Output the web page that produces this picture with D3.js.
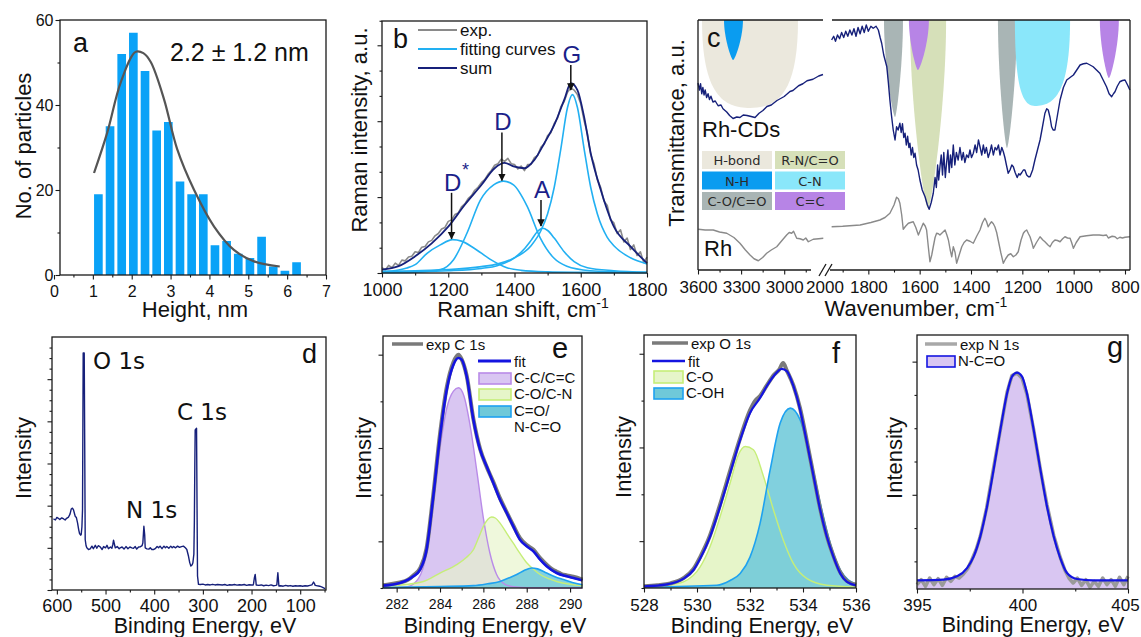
<!DOCTYPE html>
<html>
<head>
<meta charset="utf-8">
<script src="https://cdn.jsdelivr.net/npm/d3@7"></script>
<style>
  body { margin: 0; background: #fff; }
  svg { display: block; }
  text { font-family: "Liberation Sans", Arial, sans-serif; fill: #111; }
  .dv { font-family: "DejaVu Sans", sans-serif; }
</style>
</head>
<body>
<svg id="fig" width="1141" height="637"></svg>
<script>
// ---- a: particle height histogram ----
const heightBinStart = [1.0, 1.3, 1.6, 1.9, 2.2, 2.5, 2.8, 3.1, 3.4, 3.7, 4.0, 4.3, 4.6, 4.9, 5.2, 5.5, 5.8, 6.1];
const heightBinWidth = 0.3;
const heightCounts = [19, 35, 52, 57, 48, 34, 36, 22, 19, 19, 7, 8, 5, 4, 9, 2, 1, 3];
const heightFit = [[1.03, 24.0], [1.37, 33.5], [1.72, 45.4], [2.1, 52.5], [2.3, 52.2], [2.49, 50.1], [2.83, 41.4],
  [3.17, 29.6], [3.6, 20.1], [4.12, 11.4], [4.63, 5.9], [5.15, 3.2], [5.81, 2.0]];

// ---- b: Raman ----
const ramanDstar = [[1000, 0.02], [1050, 0.04], [1075, 0.066], [1100, 0.11], [1136, 0.26], [1176, 0.37], [1213, 0.44],
  [1240, 0.42], [1277, 0.33], [1327, 0.18], [1377, 0.07], [1420, 0.035], [1500, 0.015], [1600, 0.008], [1800, 0.003]];
const ramanD = [[1000, 0.005], [1100, 0.012], [1176, 0.044], [1216, 0.175], [1257, 0.53], [1297, 0.96], [1337, 1.16],
  [1367, 1.21], [1397, 1.16], [1438, 0.88], [1478, 0.46], [1518, 0.2], [1558, 0.09], [1629, 0.03], [1700, 0.015], [1800, 0.008]];
const ramanA = [[1000, 0.01], [1200, 0.03], [1300, 0.06], [1350, 0.1], [1400, 0.2], [1430, 0.32], [1450, 0.43], [1470, 0.55],
  [1485, 0.59], [1500, 0.56], [1520, 0.46], [1550, 0.28], [1580, 0.15], [1620, 0.07], [1700, 0.03], [1800, 0.01]];
const ramanG = [[1000, 0.02], [1100, 0.03], [1200, 0.046], [1300, 0.084], [1350, 0.12], [1400, 0.2], [1450, 0.36], [1480, 0.56],
  [1500, 0.78], [1520, 1.13], [1540, 1.64], [1560, 2.18], [1575, 2.35], [1590, 2.18], [1610, 1.64], [1630, 1.13], [1650, 0.78],
  [1680, 0.47], [1700, 0.36], [1750, 0.2], [1800, 0.12]];
const ramanSum = [[1000, 0.044], [1050, 0.09], [1100, 0.22], [1150, 0.39], [1200, 0.61], [1250, 0.9], [1300, 1.16], [1340, 1.38],
  [1370, 1.45], [1400, 1.4], [1430, 1.38], [1460, 1.49], [1490, 1.71], [1520, 1.95], [1550, 2.28], [1570, 2.5], [1590, 2.41],
  [1610, 2.06], [1630, 1.58], [1660, 1.1], [1700, 0.61], [1750, 0.35], [1800, 0.13]];
const ramanExpStart = 1000, ramanExpStep = 10;
const ramanExp = [.07, .04, .10, .07, .13, .10, .17, .16, .21, .22, .28, .27, .34, .35, .41, .43, .49, .52, .58, .60, .68, .70,
  .77, .79, .87, .91, .98, 1.02, 1.09, 1.13, 1.19, 1.23, 1.30, 1.35, 1.42, 1.44, 1.50, 1.47, 1.51, 1.44, 1.43, 1.37, 1.41, 1.35,
  1.43, 1.43, 1.52, 1.55, 1.66, 1.70, 1.81, 1.85, 1.97, 2.04, 2.19, 2.26, 2.38, 2.44, 2.41, 2.35, 2.23, 2.01, 1.84, 1.56, 1.44,
  1.23, 1.13, .95, .89, .70, .66, .52, .57, .41, .46, .31, .37, .23, .28, .14, .21];
const peakNames = ['D', 'D', 'A', 'G'];
const peakShift = [1213, 1365, 1483, 1573];
const peakTop = [0.45, 1.22, 0.62, 2.41];

// ---- c: FTIR ----
const rhcdLeft = [[3600, 0.748], [3590, 0.72], [3582, 0.745], [3574, 0.705], [3566, 0.73], [3558, 0.7], [3550, 0.72], [3540, 0.69],
  [3530, 0.705], [3520, 0.682], [3510, 0.695], [3496, 0.672], [3480, 0.676], [3460, 0.657], [3440, 0.66], [3426, 0.645],
  [3400, 0.632], [3380, 0.618], [3356, 0.606], [3330, 0.612], [3308, 0.61], [3285, 0.62], [3259, 0.618], [3230, 0.614],
  [3203, 0.61], [3175, 0.627], [3148, 0.638], [3120, 0.654], [3090, 0.66], [3050, 0.678], [3000, 0.694], [2960, 0.714],
  [2939, 0.718], [2900, 0.737], [2870, 0.745], [2841, 0.757], [2800, 0.763], [2760, 0.776], [2730, 0.782]];
const rhcdRight = [[1943, 0.92], [1935, 0.935], [1928, 0.915], [1920, 0.94], [1912, 0.925], [1904, 0.95], [1896, 0.93], [1888, 0.955],
  [1880, 0.935], [1872, 0.96], [1864, 0.94], [1856, 0.965], [1848, 0.935], [1840, 0.97], [1832, 0.945], [1824, 0.975], [1816, 0.95],
  [1808, 0.98], [1800, 0.955], [1790, 0.975], [1781, 0.967], [1770, 0.975], [1761, 0.96], [1754, 0.93], [1748, 0.907], [1740, 0.86],
  [1728, 0.813], [1722, 0.75], [1716, 0.68], [1710, 0.62], [1703, 0.56], [1696, 0.52], [1690, 0.573], [1684, 0.56], [1677, 0.587],
  [1672, 0.55], [1667, 0.585], [1662, 0.53], [1657, 0.547], [1652, 0.5], [1647, 0.535], [1642, 0.49], [1638, 0.507], [1633, 0.46],
  [1628, 0.49], [1623, 0.45], [1618, 0.467], [1612, 0.42], [1606, 0.4], [1599, 0.36], [1590, 0.32], [1579, 0.293], [1570, 0.26],
  [1563, 0.243], [1555, 0.27], [1547, 0.307], [1540, 0.37], [1535, 0.33], [1530, 0.42], [1526, 0.36], [1521, 0.413], [1516, 0.46],
  [1511, 0.38], [1506, 0.47], [1500, 0.37], [1495, 0.43], [1490, 0.48], [1485, 0.39], [1480, 0.46], [1475, 0.41], [1469, 0.5],
  [1463, 0.42], [1457, 0.47], [1450, 0.44], [1443, 0.49], [1436, 0.44], [1430, 0.47], [1424, 0.43], [1417, 0.46], [1410, 0.45],
  [1404, 0.48], [1398, 0.45], [1391, 0.467], [1384, 0.5], [1378, 0.47], [1371, 0.52], [1365, 0.493], [1358, 0.46], [1352, 0.5],
  [1346, 0.467], [1340, 0.49], [1333, 0.45], [1326, 0.473], [1320, 0.5], [1313, 0.46], [1306, 0.49], [1300, 0.48], [1293, 0.5],
  [1287, 0.46], [1280, 0.49], [1274, 0.473], [1268, 0.45], [1262, 0.42], [1255, 0.387], [1248, 0.4], [1241, 0.42], [1235, 0.413],
  [1228, 0.39], [1220, 0.37], [1214, 0.385], [1209, 0.38], [1202, 0.39], [1196, 0.4], [1190, 0.4], [1183, 0.38], [1176, 0.373],
  [1170, 0.373], [1160, 0.4], [1151, 0.44], [1141, 0.48], [1131, 0.52], [1122, 0.57], [1112, 0.627], [1105, 0.645], [1099, 0.64],
  [1092, 0.61], [1086, 0.573], [1080, 0.56], [1073, 0.56], [1063, 0.62], [1053, 0.68], [1040, 0.73], [1027, 0.76], [1014, 0.77],
  [1001, 0.78], [988, 0.8], [975, 0.82], [962, 0.825], [949, 0.827], [936, 0.82], [924, 0.813], [911, 0.8], [898, 0.787],
  [885, 0.76], [872, 0.733], [862, 0.705], [852, 0.693], [845, 0.705], [839, 0.713], [830, 0.735], [820, 0.753], [810, 0.758],
  [800, 0.76], [790, 0.74], [781, 0.72]];
const rhLeft = [[3598, 0.163], [3550, 0.16], [3494, 0.16], [3450, 0.152], [3400, 0.147], [3350, 0.13], [3308, 0.107], [3270, 0.08],
  [3238, 0.06], [3210, 0.045], [3180, 0.037], [3150, 0.05], [3122, 0.067], [3090, 0.08], [3052, 0.093], [3020, 0.115], [2983, 0.14],
  [2965, 0.15], [2948, 0.147], [2935, 0.155], [2913, 0.127], [2890, 0.125], [2867, 0.12], [2850, 0.128], [2832, 0.113],
  [2815, 0.118], [2798, 0.123], [2760, 0.125], [2728, 0.127]];
const rhRight = [[1943, 0.173], [1900, 0.175], [1832, 0.18], [1790, 0.19], [1755, 0.2], [1735, 0.21], [1716, 0.227], [1700, 0.26],
  [1690, 0.291], [1683, 0.285], [1677, 0.267], [1670, 0.22], [1664, 0.163], [1655, 0.175], [1644, 0.187], [1635, 0.19],
  [1625, 0.193], [1615, 0.17], [1605, 0.14], [1595, 0.165], [1586, 0.187], [1578, 0.175], [1573, 0.16], [1566, 0.09],
  [1560, 0.033], [1553, 0.06], [1547, 0.093], [1540, 0.13], [1534, 0.147], [1527, 0.145], [1521, 0.14], [1511, 0.15],
  [1501, 0.16], [1494, 0.14], [1488, 0.12], [1481, 0.08], [1475, 0.053], [1469, 0.093], [1462, 0.07], [1456, 0.027],
  [1446, 0.06], [1436, 0.093], [1427, 0.11], [1417, 0.12], [1404, 0.115], [1391, 0.107], [1378, 0.135], [1365, 0.16],
  [1355, 0.19], [1346, 0.207], [1340, 0.195], [1333, 0.173], [1326, 0.185], [1320, 0.193], [1313, 0.185], [1307, 0.173],
  [1300, 0.15], [1294, 0.12], [1284, 0.07], [1274, 0.027], [1265, 0.045], [1255, 0.06], [1245, 0.065], [1235, 0.053],
  [1225, 0.06], [1216, 0.073], [1205, 0.12], [1196, 0.147], [1190, 0.155], [1183, 0.16], [1176, 0.145], [1170, 0.133],
  [1163, 0.11], [1157, 0.087], [1145, 0.11], [1131, 0.133], [1120, 0.12], [1112, 0.113], [1100, 0.1], [1092, 0.093],
  [1083, 0.11], [1073, 0.12], [1063, 0.118], [1053, 0.113], [1043, 0.125], [1034, 0.133], [1024, 0.128], [1014, 0.127],
  [1008, 0.11], [1001, 0.087], [990, 0.11], [975, 0.133], [950, 0.137], [924, 0.14], [900, 0.14], [885, 0.138], [872, 0.14],
  [865, 0.128], [859, 0.131], [850, 0.135], [839, 0.133], [830, 0.125], [820, 0.131], [810, 0.128], [800, 0.131], [781, 0.133]];
const bandNames = ['H-bond', 'N-H', 'C-O/C=O', 'R-N/C=O', 'C=C', 'C-O/C=O', 'C-N', 'C=C'];
const bandSide = ['L', 'L', 'R', 'R', 'R', 'R', 'R', 'R'];
const bandFrom = [3572, 3419, 1739, 1638, 1642, 1295, 1229, 898];
const bandTo = [2904, 3287, 1665, 1497, 1564, 1221, 1014, 824];
const bandTip = [3238, 3356, 1696, 1568, 1607, 1260, 1151, 863];
const bandDepth = [0.648, 0.84, 0.612, 0.248, 0.8, 0.488, 0.656, 0.768];
const groupNames = ['H-bond', 'R-N/C=O', 'N-H', 'C-N', 'C-O/C=O', 'C=C'];
const groupColors = ['#ebe8dd', '#d6e0b9', '#0a9cf0', '#8ae7fa', '#a9b5b5', '#b784e6'];

// ---- d: XPS survey ----
const surveyD = [[607, 1.685], [603, 1.66], [600, 1.72], [597, 1.70], [594, 1.67], [590, 1.71], [586, 1.685], [583, 1.66],
  [580, 1.70], [576, 1.73], [573, 1.80], [570.5, 1.92], [568, 1.94], [565.8, 1.90], [564, 1.82], [562.3, 1.75], [560, 1.72],
  [557.5, 1.59], [555, 1.42], [553.4, 1.34], [551, 1.30], [550, 1.315], [548.5, 1.5], [547.3, 1.905], [546.5, 4.0],
  [545.9, 5.62], [543.8, 5.62], [542.8, 3.5], [541.8, 1.197], [540, 1.05], [538.4, 1.0], [535, 0.96], [531.5, 0.976],
  [528, 1.04], [525, 0.98], [521, 1.06], [518, 0.99], [515, 1.05], [511, 1.024], [507, 0.96], [504, 1.03], [500, 1.0],
  [497, 1.06], [494, 0.98], [490, 1.02], [487, 0.99], [485, 1.08], [483.6, 1.18], [481, 1.05], [480, 1.0], [476, 1.03],
  [472, 0.98], [469.9, 1.0], [466, 1.02], [462, 0.97], [458, 1.03], [454, 0.98], [450, 1.02], [446, 1.0], [442.5, 0.99],
  [439, 1.03], [436, 0.97], [432, 1.02], [428.8, 1.024], [425, 1.05], [423.3, 1.118], [421.2, 1.512], [419.5, 1.3],
  [418.5, 1.0], [415, 0.976], [411, 0.97], [408, 1.0], [405, 0.96], [401.4, 0.96], [398, 0.98], [394, 1.03], [391, 1.0],
  [388, 1.04], [384, 0.98], [380, 1.04], [377, 1.0], [374, 1.03], [370, 0.99], [366, 1.04], [363, 1.0], [360, 1.03],
  [356, 1.0], [352, 1.04], [348, 1.01], [344, 1.03], [340, 1.04], [336, 1.0], [333, 0.96], [329.5, 0.8], [327, 0.65],
  [324.7, 0.567], [322, 0.6], [320.5, 0.646], [318.5, 0.85], [317.5, 1.6], [316.5, 3.0], [315.8, 3.795], [313, 3.835],
  [312, 2.0], [311, 0.331], [309, 0.134], [305, 0.13], [300, 0.14], [295, 0.12], [290, 0.13], [285, 0.12], [280, 0.135],
  [275, 0.12], [270, 0.13], [265, 0.125], [260, 0.12], [255, 0.13], [250, 0.11], [245, 0.125], [240, 0.12], [235, 0.13],
  [230, 0.115], [225, 0.125], [220, 0.12], [215, 0.13], [210, 0.11], [205, 0.125], [200, 0.12], [197, 0.115], [195.9, 0.15],
  [194, 0.3], [192.5, 0.37], [191, 0.2], [190.4, 0.12], [185, 0.11], [180, 0.12], [175, 0.1], [170, 0.115], [165, 0.105],
  [160, 0.12], [155, 0.1], [150, 0.11], [148, 0.12], [146.8, 0.3], [145.9, 0.41], [144.8, 0.25], [143.8, 0.094], [140, 0.1],
  [135, 0.09], [130, 0.11], [125, 0.095], [120, 0.105], [115, 0.09], [110, 0.1], [105, 0.095], [100, 0.1], [95, 0.09],
  [90, 0.1], [85, 0.095], [80, 0.11], [76, 0.12], [74, 0.16], [72.6, 0.189], [71, 0.16], [69.2, 0.11], [65, 0.1], [60, 0.09],
  [55, 0.07], [50, 0.04], [48.6, 0.031]];

// ---- e: C 1s ----
const c1sExp = [[281.38, 0.06], [281.7, 0.08], [282.15, 0.12], [282.5, 0.17], [282.77, 0.27], [283.08, 0.42], [283.38, 0.85],
  [283.69, 2.0], [284, 3.3], [284.31, 4.3], [284.62, 4.84], [284.85, 5.0], [285, 4.9], [285.23, 4.55], [285.54, 3.62],
  [285.85, 2.98], [286.15, 2.6], [286.46, 2.27], [286.77, 1.92], [287.08, 1.62], [287.38, 1.34], [287.69, 1.07], [288, 0.92],
  [288.31, 0.82], [288.62, 0.64], [288.92, 0.5], [289.15, 0.41], [289.38, 0.35], [289.6, 0.3], [289.85, 0.27], [290.15, 0.24],
  [290.57, 0.18]];
const c1sFit = [[281.38, 0.05], [282.15, 0.107], [282.77, 0.25], [283.08, 0.393], [283.38, 0.821], [283.69, 1.964], [284, 3.25],
  [284.31, 4.25], [284.62, 4.786], [284.85, 4.929], [285, 4.893], [285.23, 4.536], [285.54, 3.607], [285.85, 2.964],
  [286.15, 2.607], [286.46, 2.25], [286.77, 1.893], [287.08, 1.607], [287.38, 1.321], [287.69, 1.036], [288, 0.893],
  [288.31, 0.786], [288.62, 0.607], [288.92, 0.464], [289.38, 0.321], [289.85, 0.25], [290.15, 0.214], [290.57, 0.164]];
const c1sCC = [[281.38, 0.0], [282.5, 0.03], [283.0, 0.2], [283.38, 0.75], [283.69, 1.85], [284, 3.0], [284.31, 3.85],
  [284.62, 4.22], [284.85, 4.29], [285.1, 4.12], [285.4, 3.45], [285.7, 2.5], [286.0, 1.5], [286.3, 0.75], [286.6, 0.3],
  [287.0, 0.08], [287.5, 0.02], [288, 0.005], [290.57, 0]];
const c1sCO = [[281.38, 0.03], [282.3, 0.07], [283.23, 0.14], [284, 0.32], [284.77, 0.5], [285.2, 0.65], [285.54, 0.82],
  [285.8, 1.1], [286, 1.32], [286.2, 1.47], [286.38, 1.52], [286.55, 1.5], [286.77, 1.39], [287.08, 1.17], [287.38, 0.96],
  [287.69, 0.74], [288, 0.54], [288.31, 0.4], [288.62, 0.29], [289, 0.2], [289.38, 0.14], [290, 0.08], [290.57, 0.05]];
const c1sNCO = [[281.38, 0.01], [284, 0.03], [285.54, 0.05], [286.2, 0.09], [286.77, 0.14], [287.2, 0.22], [287.54, 0.29],
  [287.9, 0.38], [288.23, 0.43], [288.5, 0.41], [288.92, 0.32], [289.3, 0.24], [289.69, 0.18], [290.1, 0.12], [290.57, 0.07]];

// ---- f: O 1s ----
const o1sExp = [[528, 0.04], [528.5, 0.06], [529, 0.1], [529.49, 0.21], [529.86, 0.4], [530.12, 0.66], [530.49, 1.12],
  [530.87, 1.78], [531.25, 2.5], [531.63, 3.2], [532, 3.79], [532.2, 4.0], [532.38, 4.1], [532.63, 4.32], [532.89, 4.54],
  [533.1, 4.66], [533.25, 4.8], [533.39, 4.64], [533.64, 4.32], [533.89, 3.83], [534.15, 3.12], [534.4, 2.4], [534.65, 1.69],
  [534.9, 1.11], [535.15, 0.68], [535.41, 0.33], [535.66, 0.15], [536, 0.07]];
const o1sFit = [[528, 0.036], [528.86, 0.079], [529.49, 0.2], [529.86, 0.379], [530.12, 0.629], [530.49, 1.093], [530.87, 1.736],
  [531.25, 2.45], [531.63, 3.164], [532, 3.736], [532.38, 4.057], [532.63, 4.307], [532.89, 4.521], [533.2, 4.679],
  [533.39, 4.629], [533.64, 4.307], [533.89, 3.807], [534.15, 3.093], [534.4, 2.379], [534.65, 1.664], [534.9, 1.093],
  [535.15, 0.664], [535.41, 0.307], [535.66, 0.129], [536, 0.057]];
const o1sCO = [[528, 0.03], [529, 0.07], [529.49, 0.13], [530.12, 0.45], [530.49, 0.88], [530.87, 1.52], [531.25, 2.24],
  [531.56, 2.84], [531.82, 3.02], [532.13, 2.95], [532.51, 2.38], [532.89, 1.66], [533.26, 1.02], [533.64, 0.52],
  [534.15, 0.2], [534.9, 0.06], [536, 0.02]];
const o1sCOH = [[528, 0.02], [530.75, 0.06], [531.25, 0.16], [531.63, 0.31], [532, 0.66], [532.38, 1.38], [532.76, 2.52],
  [533.14, 3.52], [533.52, 3.84], [533.89, 3.59], [534.27, 2.81], [534.65, 1.81], [535.03, 0.95], [535.41, 0.38], [536, 0.08]];

// ---- g: N 1s ----
const n1sExp = [[395, 0.3], [395.2, 0.45], [395.4, 0.25], [395.6, 0.5], [395.8, 0.3], [396, 0.48], [396.2, 0.28], [396.4, 0.52],
  [396.6, 0.4], [396.8, 0.55], [397, 0.5], [397.2, 0.62], [397.4, 0.78], [397.6, 1.05], [397.8, 1.35], [398, 1.75], [398.3, 2.6],
  [398.6, 3.7], [398.95, 4.95], [399.27, 6.08], [399.5, 6.58], [399.74, 6.66], [399.98, 6.5], [400.21, 6.02], [400.53, 4.95],
  [400.85, 3.75], [401.16, 2.7], [401.48, 1.78], [401.79, 1.12], [402, 0.75], [402.2, 0.5], [402.4, 0.35], [402.6, 0.5],
  [402.8, 0.28], [403, 0.45], [403.2, 0.22], [403.4, 0.4], [403.6, 0.25], [403.8, 0.5], [404, 0.3], [404.2, 0.45], [404.4, 0.25],
  [404.6, 0.52], [404.8, 0.3], [405, 0.55]];
const n1sFit = [[395, 0.43], [396.26, 0.45], [396.9, 0.55], [397.37, 0.8], [397.69, 1.15], [398, 1.75], [398.32, 2.65],
  [398.63, 3.75], [398.95, 4.95], [399.27, 6.05], [399.5, 6.55], [399.74, 6.67], [399.98, 6.55], [400.21, 6.05], [400.53, 4.95],
  [400.85, 3.75], [401.16, 2.65], [401.48, 1.75], [401.79, 1.1], [402.11, 0.65], [402.58, 0.47], [403.37, 0.43], [405, 0.43]];

// ---------------------------------------------------------------
const svg = d3.select('#fig');
const ink = '#1a1a1a';
const navy = '#16207a';
const blueFit = '#1414e0';
const purpleFill = '#d9c6f2', purpleLine = '#b98be8';
const greenFill = '#e6f5c9', greenLine = '#c6ee78';
const cyanFill = '#6fc9d9', cyanLine = '#1ea2f0';

svg.append('defs').append('marker')
  .attr('id', 'ah').attr('viewBox', '0 0 10 10').attr('refX', 9).attr('refY', 5)
  .attr('markerWidth', 5).attr('markerHeight', 6).attr('orient', 'auto')
  .append('path').attr('d', 'M0,0L10,5L0,10z').attr('fill', '#111');

function box(x0, y0, x1, y1) {
  svg.append('rect').attr('x', x0).attr('y', y0).attr('width', x1 - x0).attr('height', y1 - y0)
    .attr('fill', 'none').attr('stroke', ink).attr('stroke-width', 1.3);
}

function xAxis(scale, y, majors, minors, fs, pad) {
  const gm = svg.append('g').attr('transform', `translate(0,${y})`)
    .call(d3.axisBottom(scale).tickValues(minors).tickSize(2.5).tickFormat(''));
  const g = svg.append('g').attr('transform', `translate(0,${y})`)
    .call(d3.axisBottom(scale).tickValues(majors).tickSize(4.5).tickPadding(pad).tickFormat(d3.format('d')));
  [gm, g].forEach(a => {
    a.select('.domain').remove();
    a.selectAll('line').attr('stroke', ink).attr('stroke-width', 1.1);
  });
  g.selectAll('text').style('font-size', fs + 'px');
  return g;
}

function yAxis(scale, x, majors, minors, fs, withLabels) {
  const gm = svg.append('g').attr('transform', `translate(${x},0)`)
    .call(d3.axisLeft(scale).tickValues(minors).tickSize(2.5).tickFormat(''));
  const g = svg.append('g').attr('transform', `translate(${x},0)`)
    .call(d3.axisLeft(scale).tickValues(majors).tickSize(4.5).tickPadding(2)
      .tickFormat(withLabels ? d3.format('d') : ''));
  [gm, g].forEach(a => {
    a.select('.domain').remove();
    a.selectAll('line').attr('stroke', ink).attr('stroke-width', 1.1);
  });
  g.selectAll('text').style('font-size', fs + 'px');
}

function text(x, y, t, fs, cls, anchor) {
  return svg.append('text').attr('x', x).attr('y', y).attr('class', cls || null)
    .attr('text-anchor', anchor || 'start').style('font-size', fs + 'px').text(t);
}

function yTitle(x, y, t) {
  svg.append('text').attr('transform', `translate(${x},${y}) rotate(-90)`)
    .attr('text-anchor', 'middle').style('font-size', '22px').text(t);
}

function xTitle(x, y, t, sup, fs) {
  const el = svg.append('text').attr('x', x).attr('y', y).attr('text-anchor', 'middle').style('font-size', (fs || 22) + 'px');
  el.append('tspan').text(t);
  if (sup) el.append('tspan').attr('dy', -9).style('font-size', '14px').text(sup);
}

function drawLine(data, xs, ys, color, width, curve) {
  svg.append('path').datum(data)
    .attr('d', d3.line().x(d => xs(d[0])).y(d => ys(d[1])).curve(curve || d3.curveLinear))
    .attr('fill', 'none').attr('stroke', color).attr('stroke-width', width)
    .attr('stroke-linejoin', 'round');
}

function drawArea(data, xs, ys, base, fill, opacity) {
  svg.append('path').datum(data)
    .attr('d', d3.area().x(d => xs(d[0])).y0(base).y1(d => ys(d[1])).curve(d3.curveMonotoneX))
    .attr('fill', fill).attr('fill-opacity', opacity);
}

function legendLine(x0, x1, y, color, width, label, fs) {
  svg.append('line').attr('x1', x0).attr('x2', x1).attr('y1', y).attr('y2', y)
    .attr('stroke', color).attr('stroke-width', width);
  text(x1 + 3, y + 5.5, label, fs);
}

function legendRect(x, y, w, h, fill, stroke, label, fs) {
  svg.append('rect').attr('x', x).attr('y', y).attr('width', w).attr('height', h)
    .attr('fill', fill).attr('stroke', stroke).attr('stroke-width', 1.6);
  text(x + w + 3, y + h - 1, label, fs);
}

// ================= a =================
const xA = d3.scaleLinear().domain([0, 7]).range([54, 326]);
const yA = d3.scaleLinear().domain([0, 60]).range([275, 20]);
svg.append('g').selectAll('rect').data(heightCounts).join('rect')
  .attr('x', (d, i) => xA(heightBinStart[i]) + 1.2)
  .attr('width', xA(heightBinWidth) - xA(0) - 3)
  .attr('y', d => yA(d))
  .attr('height', d => yA(0) - yA(d))
  .attr('fill', '#0aa2f7');
drawLine(heightFit, xA, yA, '#555', 2.2, d3.curveCatmullRom.alpha(0.5));
box(60, 20, 326, 275);
xAxis(xA, 275, d3.range(0, 8), d3.range(0.5, 7, 1), 16, 6);
yAxis(yA, 60, [0, 20, 40, 60], [10, 30, 50], 16, true);
text(73, 52, 'a', 27);
text(170, 61, '2.2 \u00b1 1.2 nm', 25);
yTitle(31, 146, 'No. of particles');
xTitle(195, 317, 'Height, nm');

// ================= b =================
const xB = d3.scaleLinear().domain([1000, 1800]).range([382, 647]);
const yB = d3.scaleLinear().domain([0, 3.32]).range([273, 21]);
const ramanExpPts = ramanExp.map((v, i) => [ramanExpStart + i * ramanExpStep, v]);
drawLine(ramanExpPts, xB, yB, '#8a8a8a', 1.6);
[ramanDstar, ramanD, ramanA, ramanG].forEach(c => drawLine(c, xB, yB, '#22b0f2', 1.6, d3.curveMonotoneX));
drawLine(ramanSum, xB, yB, navy, 1.8, d3.curveMonotoneX);
box(382, 21, 647, 273);
xAxis(xB, 273, d3.range(1000, 1801, 200), d3.range(1100, 1800, 200), 18, 6);
yAxis(yB, 382, [0, 1, 2, 3], [1 / 3, 2 / 3, 4 / 3, 5 / 3, 7 / 3, 8 / 3, 10 / 3 - 0.01], 18, false);
const arrowLen = [46, 48, 26, 25];
peakNames.forEach((n, i) => {
  const x = xB(peakShift[i]) - 1, yTip = yB(peakTop[i]);
  svg.append('line').attr('x1', x).attr('x2', x).attr('y1', yTip - arrowLen[i]).attr('y2', yTip)
    .attr('stroke', '#111').attr('stroke-width', 1.5).attr('marker-end', 'url(#ah)');
  text(x + 1, yTip - arrowLen[i] - 2, n, 24, null, 'middle').style('fill', '#1b1f8a');
});
text(xB(peakShift[0]) + 13, yB(peakTop[0]) - arrowLen[0] - 17, '*', 18, null, 'middle').style('fill', '#1b1f8a');
legendLine(418, 457, 30, '#8a8a8a', 2, 'exp.', 17);
legendLine(418, 457, 49, '#22b0f2', 2, 'fitting curves', 17);
legendLine(418, 457, 68, navy, 2, 'sum', 17);
text(393, 48, 'b', 27);
yTitle(367, 130, 'Raman intensity, a.u.');
xTitle(523, 317, 'Raman shift, cm', '-1');

// ================= c =================
const xCL = d3.scaleLinear().domain([3600, 2730]).range([698, 823]);
const xCR = d3.scaleLinear().domain([2000, 800]).range([817, 1125]);
const yC = d3.scaleLinear().domain([0, 1]).range([270, 20]);
const topC = yC(1);
bandNames.forEach((n, i) => {
  const xs = bandSide[i] === 'L' ? xCL : xCR;
  const xl = xs(bandFrom[i]), xr = xs(bandTo[i]), xt = xs(bandTip[i]), yt = yC(bandDepth[i]);
  const wide = (xr - xl) > 40;
  const k = wide ? 0.85 : 0.45, r = wide ? 0.55 : 0.2;
  const p = d3.path();
  p.moveTo(xl, topC);
  p.bezierCurveTo(xl, topC + k * (yt - topC), xt - r * (xt - xl), yt, xt, yt);
  p.bezierCurveTo(xt + r * (xr - xt), yt, xr, topC + k * (yt - topC), xr, topC);
  p.closePath();
  svg.append('path').attr('d', p.toString()).attr('fill', groupColors[groupNames.indexOf(n)]);
});
drawLine(rhcdLeft, xCL, yC, navy, 1.4);
drawLine(rhcdRight, xCR, yC, navy, 1.4);
drawLine(rhLeft, xCL, yC, '#8a8a8a', 1.4);
drawLine(rhRight, xCR, yC, '#8a8a8a', 1.4);
// broken frame
const frameC = [[698, 20, 823, 20], [832, 20, 1130, 20], [698, 20, 698, 270], [1130, 20, 1130, 270],
  [698, 270, 811, 270], [830, 270, 1130, 270], [819, 276, 826, 264], [825, 276, 832, 264]];
frameC.forEach(s => svg.append('line').attr('x1', s[0]).attr('y1', s[1]).attr('x2', s[2]).attr('y2', s[3])
  .attr('stroke', ink).attr('stroke-width', 1.3));
xAxis(xCL, 270, [3600, 3300, 3000], [3450, 3150, 2850], 17, 6);
xAxis(xCR, 270, d3.range(1800, 799, -200), d3.range(1900, 850, -200), 17, 6);
text(xCR(2000) + 8, 293, '2000', 17, null, 'middle');
groupNames.forEach((n, i) => {
  const col = i % 2, row = Math.floor(i / 2);
  const x = 702 + col * 73, y = 151 + row * 20.5;
  svg.append('rect').attr('x', x).attr('y', y).attr('width', 70).attr('height', 18).attr('fill', groupColors[i]);
  text(x + 35, y + 14, n, 13, 'dv', 'middle').style('fill', '#2a2a2a');
});
text(702, 137, 'Rh-CDs', 22);
text(704, 256, 'Rh', 22);
text(707, 47, 'c', 27);
yTitle(684, 133, 'Transmittance, a.u.');
xTitle(916, 316, 'Wavenumber, cm', '-1');

// ================= d =================
const xD = d3.scaleLinear().domain([610, 47]).range([52, 326]);
const yD = d3.scaleLinear().domain([0, 6]).range([590, 337]);
drawLine(surveyD, xD, yD, navy, 1.4);
box(52, 337, 326, 590);
xAxis(xD, 590, d3.range(600, 99, -100), d3.range(550, 49, -100), 18, 5);
yAxis(yD, 52, d3.range(0, 6), d3.range(0.25, 6, 0.25).filter(v => v % 1 !== 0), 18, false);
text(93, 369, 'O 1s', 23, 'dv');
text(177, 420, 'C 1s', 23, 'dv');
text(126, 518, 'N 1s', 23, 'dv');
text(302, 363, 'd', 27);
yTitle(31, 458, 'Intensity');
xTitle(205, 633, 'Binding Energy, eV', null, 21.5);

// ================= e =================
const xE = d3.scaleLinear().domain([281.37, 290.55]).range([383, 582]);
const yE = d3.scaleLinear().domain([0, 5.4]).range([588, 336]);
drawArea(c1sCC, xE, yE, yE(0), purpleFill, 1);
drawArea(c1sCO, xE, yE, yE(0), greenFill, 0.65);
drawArea(c1sNCO, xE, yE, yE(0), cyanFill, 0.85);
drawLine(c1sCC, xE, yE, purpleLine, 1.4, d3.curveMonotoneX);
drawLine(c1sCO, xE, yE, greenLine, 1.4, d3.curveMonotoneX);
drawLine(c1sNCO, xE, yE, cyanLine, 1.6, d3.curveMonotoneX);
drawLine(c1sExp, xE, yE, '#7a7a7a', 4, d3.curveMonotoneX);
drawLine(c1sFit, xE, yE, blueFit, 2.6, d3.curveMonotoneX);
box(383, 336, 582, 588);
xAxis(xE, 588, d3.range(282, 291, 2), d3.range(283, 291, 2), 14, 7);
yAxis(yE, 383, [1, 3, 5], [0, 2, 4], 14, false);
legendLine(392, 423, 344, '#7a7a7a', 3.5, 'exp C 1s', 15);
legendLine(478, 511, 361, blueFit, 3, 'fit', 15);
legendRect(479, 373, 32, 11, purpleFill, purpleLine, 'C-C/C=C', 15);
legendRect(479, 389, 32, 11, greenFill, greenLine, 'C-O/C-N', 15);
legendRect(479, 406, 32, 11, cyanFill, cyanLine, 'C=O/', 15);
text(514, 432, 'N-C=O', 15);
text(552, 358, 'e', 29);
yTitle(371, 458, 'Intensity');
xTitle(495, 633, 'Binding Energy, eV', null, 21.5);

// ================= f =================
const xF = d3.scaleLinear().domain([528, 536]).range([644, 856]);
const yF = d3.scaleLinear().domain([0, 5.4]).range([588, 335]);
drawArea(o1sCO, xF, yF, yF(0), greenFill, 1);
drawArea(o1sCOH, xF, yF, yF(0), cyanFill, 0.88);
drawLine(o1sCO, xF, yF, greenLine, 1.4, d3.curveMonotoneX);
drawLine(o1sCOH, xF, yF, cyanLine, 1.6, d3.curveMonotoneX);
drawLine(o1sExp, xF, yF, '#7a7a7a', 4, d3.curveMonotoneX);
drawLine(o1sFit, xF, yF, blueFit, 2.2, d3.curveMonotoneX);
box(644, 335, 856, 588);
xAxis(xF, 588, d3.range(528, 537, 2), d3.range(529, 536, 2), 17, 6);
yAxis(yF, 644, [1, 3, 5], [0, 2, 4], 14, false);
legendLine(652, 688, 343, '#7a7a7a', 3.5, 'exp O 1s', 15);
legendLine(652, 685, 361, blueFit, 2.5, 'fit', 15);
legendRect(654, 371, 29, 12, greenFill, greenLine, 'C-O', 15);
legendRect(654, 388, 29, 11, cyanFill, cyanLine, 'C-OH', 15);
text(832, 363, 'f', 29);
yTitle(631, 457, 'Intensity');
xTitle(762, 633, 'Binding Energy, eV', null, 21.5);

// ================= g =================
const xG = d3.scaleLinear().domain([395, 405]).range([917, 1128]);
const yG = d3.scaleLinear().domain([0.17, 7.8]).range([589, 335]);
drawArea(n1sFit, xG, yG, yG(0.17), purpleFill, 1);
drawLine(n1sExp, xG, yG, '#9a9a9a', 3.5);
drawLine(n1sFit, xG, yG, blueFit, 2.2, d3.curveMonotoneX);
box(917, 335, 1128, 589);
const gAxisG = xAxis(xG, 589, [395, 400, 405], [397.5, 402.5], 17, 5);
gAxisG.selectAll('text').filter(d => d === 405).attr('dx', -3);
yAxis(yG, 917, [3, 7], [1, 2, 4, 5, 6], 14, false);
legendLine(925, 957, 344, '#a8a8a8', 3.5, 'exp N 1s', 15);
legendRect(927, 356, 28, 11, purpleFill, blueFit, 'N-C=O', 15);
text(1107, 357, 'g', 29);
yTitle(902, 458, 'Intensity');
xTitle(1033, 632, 'Binding Energy, eV', null, 21.5);
</script>
</body>
</html>
